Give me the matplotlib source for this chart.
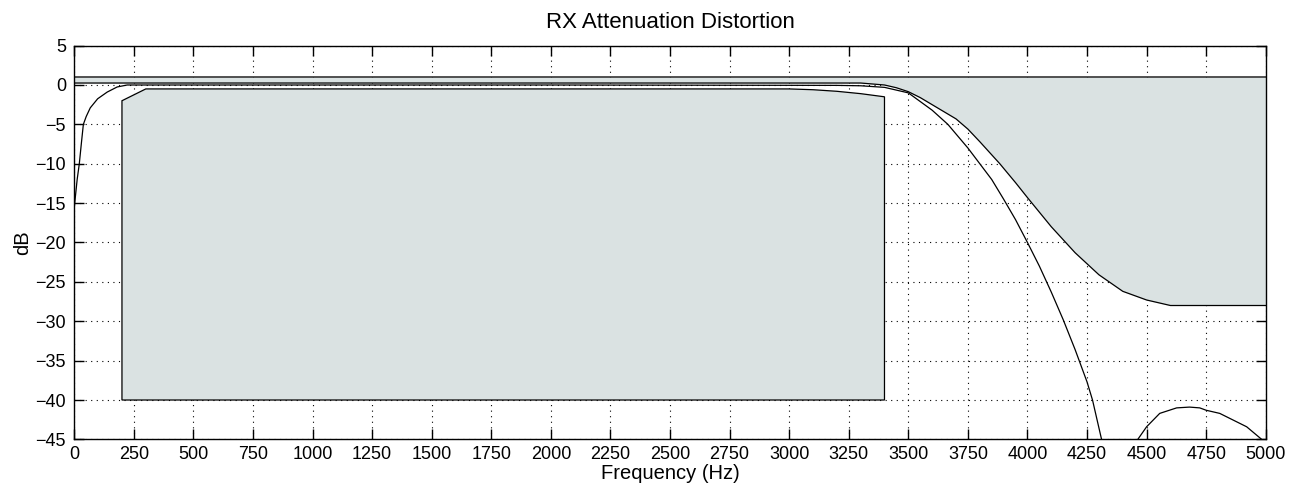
import numpy as np
import matplotlib.pyplot as plt

plt.rcParams['font.family'] = ['Liberation Sans', 'DejaVu Sans']

# upper limit (grey region above it is the forbidden area)
up_f = [0, 3300, 3400, 3450, 3500, 3550, 3600, 3650, 3700, 3750, 3800, 3884, 3950, 4000,
        4100, 4200, 4300, 4400, 4500, 4600, 5000]
up_db = [0.25, 0.25, 0.0, -0.35, -0.85, -1.6, -2.5, -3.4, -4.3, -5.6, -7.2, -10, -12.4, -14.3,
         -18, -21.3, -24.1, -26.2, -27.3, -28, -28]
up_top = 1.0

# lower limit box
lo_f = [200, 200, 300, 3000, 3100, 3200, 3300, 3400, 3400]
lo_db = [-40, -2.0, -0.5, -0.5, -0.6, -0.8, -1.1, -1.5, -40]

# measured response, passband + skirt
resp_f = [0, 12, 21, 30, 38, 50, 67, 98, 138, 180, 222, 1000, 2000, 3200, 3300, 3400, 3500,
          3600, 3666, 3750, 3800, 3850, 3900, 3950, 4000, 4050, 4100, 4150, 4200, 4250, 4273,
          4311, 4330]
resp_db = [-15.5, -12, -10, -7.3, -5, -4, -2.9, -1.75, -0.9, -0.25, 0, 0, 0, -0.05, -0.1, -0.3,
           -1.0, -3.2, -5, -8, -10, -12, -14.5, -17.1, -20, -23, -26.3, -29.8, -33.6, -37.7,
           -40, -45, -48]

# stopband lobe
lobe_f = [4440, 4463, 4500, 4555, 4626, 4680, 4723, 4750, 4807, 4920, 4983, 5000]
lobe_db = [-48, -45, -43.4, -41.7, -41, -40.9, -41, -41.3, -41.7, -43.4, -45, -45.8]

fill_c = '#dae2e2'

fig = plt.figure(figsize=(12.99, 5.04), dpi=100)
ax = fig.add_axes([0.0572, 0.1282, 0.9172, 0.7813])

ax.fill_between(up_f, up_db, up_top, color=fill_c, lw=0)
ax.plot(up_f, up_db, color='k', lw=0.9)
ax.axhline(up_top, color='#333333', lw=1.2)

ax.fill(lo_f, lo_db, facecolor=fill_c, edgecolor='k', lw=0.9)

ax.plot(resp_f, resp_db, color='k', lw=0.9)
ax.plot(lobe_f, lobe_db, color='k', lw=0.9)

ax.set_xlim(0, 5000)
ax.set_ylim(-45, 5)
ax.set_xticks(np.arange(0, 5001, 250))
ax.set_yticks(np.arange(-45, 6, 5))
ax.set_axisbelow(True)
ax.grid(True, color='k', linestyle=(0, (1, 4)), lw=0.8)
ax.tick_params(direction='in', top=True, right=True, length=7.5, labelsize=13, width=1)
ax.tick_params(axis='x', pad=4.5)
ax.tick_params(axis='y', pad=6)
for s in ax.spines.values():
    s.set_linewidth(1)

ax.set_title('RX Attenuation Distortion', fontsize=16, pad=13)
ax.set_xlabel('Frequency (Hz)', fontsize=14.5, labelpad=1)
ax.set_ylabel('dB', fontsize=14.5, labelpad=2)

fig.savefig('out.png', dpi=100)
